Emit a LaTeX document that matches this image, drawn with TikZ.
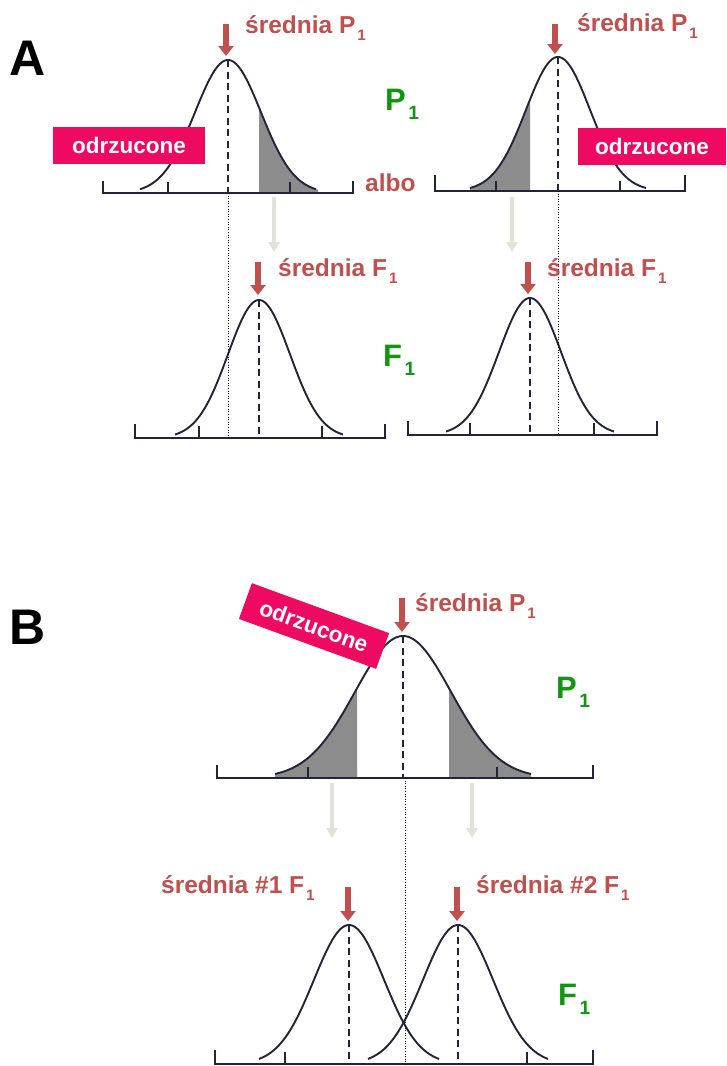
\documentclass[tikz,border=0pt]{standalone}
\usepackage{fontspec}
\setmainfont{Liberation Sans}
\usetikzlibrary{arrows.meta}
\definecolor{pinkbox}{RGB}{238,10,96}
\definecolor{redc}{RGB}{192,80,77}
\definecolor{greenc}{RGB}{18,150,18}
\definecolor{curvecol}{RGB}{35,35,60}
\definecolor{shadecol}{RGB}{140,140,140}
\definecolor{grayc}{RGB}{226,226,216}
\newcommand\subs[1]{\kern0.08em\raisebox{-0.3em}{\scalebox{0.62}{#1}}}
\newcommand\bellcurve[5]{% mu, sigma, base, height, halfwidth
  \pgfmathsetmacro\bA{#1-#5}\pgfmathsetmacro\bB{#1+#5}%
  \draw[curve] plot[domain=\bA:\bB, samples=120, smooth] (\x,{#3-#4*exp(-0.5*((\x-#1)/#2)^2)});}
\newcommand\bellfill[6]{% mu, sigma, base, height, from, to
  \fill[shadecol] (#5,#3) -- plot[domain=#5:#6, samples=60, smooth] (\x,{#3-#4*exp(-0.5*((\x-#1)/#2)^2)}) -- (#6,#3) -- cycle;}
\tikzset{
  curve/.style={draw=curvecol, line width=1.9pt},
  axisline/.style={draw=curvecol, line width=1.7pt},
  meanline/.style={draw=curvecol, line width=1.7pt, dash pattern=on 7pt off 4.5pt},
  guide/.style={draw=black, line width=0.6pt, dotted},
  redarrow/.style={draw=redc, line width=6pt, -{Triangle[width=15pt,length=10pt]}},
  grayarrow/.style={draw=grayc, line width=3.5pt, -{Triangle[width=11pt,length=10pt]}},
  meanlbl/.style={text=redc, font=\bfseries\fontsize{24.5}{24.5}\selectfont, anchor=base west, inner sep=0pt},
  poplbl/.style={text=greenc, font=\bfseries\fontsize{31}{31}\selectfont, anchor=base west, inner sep=0pt},
  panellbl/.style={text=black, font=\bfseries\fontsize{50}{50}\selectfont, anchor=base west, inner sep=0pt},
  rejbox/.style={fill=pinkbox, text=white, font=\bfseries\fontsize{22.5}{22.5}\selectfont, minimum width=152pt, minimum height=37pt, inner sep=0pt}
}
\begin{document}
\begin{tikzpicture}[x=1pt,y=-1pt]
\useasboundingbox (0,0) rectangle (726,1066);
\fill[white] (0,0) rectangle (726,1066);

% ================= Panel A =================
\node[panellbl] (labA) at (9,75) {A};

% --- top-left P1 ---
\bellfill{228}{33}{193}{133}{259}{318}
\bellcurve{228}{33}{193}{133}{88}
\draw[axisline] (103,181) -- (103,193) -- (353,193) -- (353,181);
\draw[axisline] (168,193) -- (168,182);
\draw[axisline] (290,193) -- (290,182);
\coordinate (pkTL) at (228,60);
\coordinate (bTL) at (228,193);
\draw[meanline] (pkTL) -- (bTL);

% --- top-right P1 ---
\bellfill{558}{32}{191}{134}{470}{530}
\bellcurve{558}{32}{191}{134}{88}
\draw[axisline] (435,175) -- (435,191) -- (685,191) -- (685,175);
\draw[axisline] (496,191) -- (496,181);
\draw[axisline] (620,191) -- (620,181);
\coordinate (pkTR) at (558,57);
\coordinate (bTR) at (558,191);
\draw[meanline] (pkTR) -- (bTR);

% --- bottom-left F1 ---
\bellcurve{259}{31}{438}{138}{84}
\draw[axisline] (135,424) -- (135,438) -- (385,438) -- (385,424);
\draw[axisline] (199,438) -- (199,426);
\draw[axisline] (322,438) -- (322,426);
\coordinate (pkFL) at (259,300);
\coordinate (bFL) at (259,438);
\draw[meanline] (pkFL) -- (bFL);

% --- bottom-right F1 ---
\bellcurve{530}{31}{435}{137}{84}
\draw[axisline] (408,421) -- (408,435) -- (657,435) -- (657,421);
\draw[axisline] (470,435) -- (470,423);
\draw[axisline] (594,435) -- (594,423);
\coordinate (pkFR) at (530,298);
\coordinate (bFR) at (530,435);
\draw[meanline] (pkFR) -- (bFR);

% guides
\coordinate (gTLend) at (228,438);
\coordinate (gTRend) at (558,435);
\draw[guide] (bTL) -- (gTLend);
\draw[guide] (bTR) -- (gTRend);

% grey arrows
\coordinate (gaL1) at (274,197); \coordinate (gaL2) at (274,252);
\coordinate (gaR1) at (512,197); \coordinate (gaR2) at (512,252);
\draw[grayarrow] (gaL1) -- (gaL2);
\draw[grayarrow] (gaR1) -- (gaR2);

% red arrows
\coordinate (raTL) at (226,24); \coordinate (raTLe) at (226,56);
\coordinate (raTR) at (555,24); \coordinate (raTRe) at (555,54);
\coordinate (raFL) at (258,262); \coordinate (raFLe) at (258,295);
\coordinate (raFR) at (528,262); \coordinate (raFRe) at (528,294);
\draw[redarrow] (raTL) -- (raTLe);
\draw[redarrow] (raTR) -- (raTRe);
\draw[redarrow] (raFL) -- (raFLe);
\draw[redarrow] (raFR) -- (raFRe);

% labels
\node[meanlbl] (mTL) at (245,33) {średnia P\subs{1}};
\node[meanlbl] (mTR) at (577,31) {średnia P\subs{1}};
\node[meanlbl] (mFL) at (278,276) {średnia F\subs{1}};
\node[meanlbl] (mFR) at (547,276) {średnia F\subs{1}};
\node[meanlbl] (albo) at (365,191) {albo};
\node[poplbl] (popP) at (385,110) {P\subs{1}};
\node[poplbl] (popF) at (383,366) {F\subs{1}};
\node[rejbox] (rejL) at (129,145.5) {odrzucone};
\node[rejbox, minimum width=148pt] (rejR) at (652,146) {odrzucone};

% ================= Panel B =================
\node[panellbl] (labB) at (9,644) {B};

% --- P1 ---
\bellfill{403}{48}{778}{142}{275}{357}
\bellfill{403}{48}{778}{142}{449}{531}
\bellcurve{403}{48}{778}{142}{128}
\draw[axisline] (217,765) -- (217,778) -- (593,778) -- (593,765);
\draw[axisline] (308,778) -- (308,767);
\draw[axisline] (497,778) -- (497,767);
\coordinate (pkBP) at (403,636);
\coordinate (bBP) at (403,778);
\draw[meanline] (pkBP) -- (bBP);

% --- F1 pair ---
\bellcurve{349}{35}{1064}{139}{90}
\bellcurve{458}{35}{1064}{139}{90}
\draw[axisline] (215,1050) -- (215,1064) -- (593,1064) -- (593,1050);
\draw[axisline] (285,1064) -- (285,1052);
\draw[axisline] (527,1064) -- (527,1052);
\coordinate (pkB1) at (349,925);
\coordinate (bB1) at (349,1064);
\coordinate (pkB2) at (458,925);
\coordinate (bB2) at (458,1064);
\draw[meanline] (pkB1) -- (bB1);
\draw[meanline] (pkB2) -- (bB2);

% guide
\coordinate (gB1) at (405,778); \coordinate (gB2) at (405,1066);
\draw[guide] (gB1) -- (gB2);

% grey arrows
\coordinate (gbL1) at (332,783); \coordinate (gbL2) at (332,838);
\coordinate (gbR1) at (472,783); \coordinate (gbR2) at (472,838);
\draw[grayarrow] (gbL1) -- (gbL2);
\draw[grayarrow] (gbR1) -- (gbR2);

% red arrows
\coordinate (raBP) at (402,598); \coordinate (raBPe) at (402,632);
\coordinate (raB1) at (348,887); \coordinate (raB1e) at (348,921);
\coordinate (raB2) at (457,887); \coordinate (raB2e) at (457,921);
\draw[redarrow] (raBP) -- (raBPe);
\draw[redarrow] (raB1) -- (raB1e);
\draw[redarrow] (raB2) -- (raB2e);

% labels
\node[meanlbl] (mBP) at (415,611) {średnia P\subs{1}};
\node[meanlbl] (mB1) at (161,893) {średnia \#1 F\subs{1}};
\node[meanlbl] (mB2) at (476,893) {średnia \#2 F\subs{1}};
\node[poplbl] (popBP) at (556,698) {P\subs{1}};
\node[poplbl] (popBF) at (558,1005) {F\subs{1}};
\node[rejbox, minimum width=146pt, minimum height=38pt, rotate=-20] (rejB) at (314,626) {odrzucone};
\end{tikzpicture}
\end{document}
